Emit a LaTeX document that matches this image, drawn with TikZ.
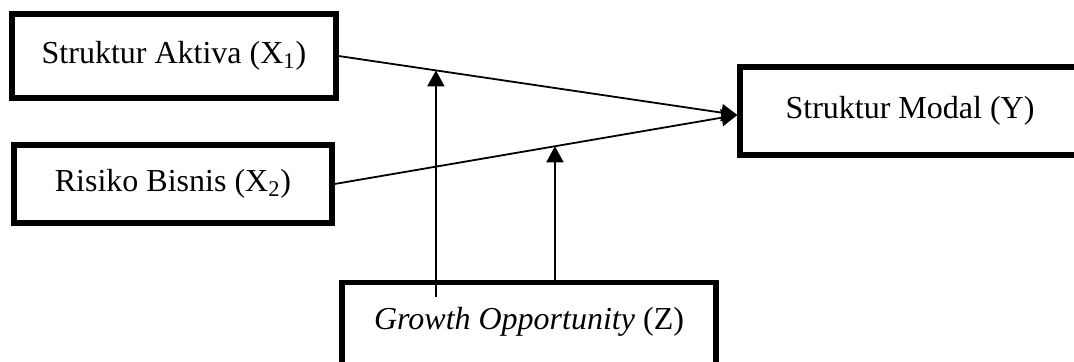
\documentclass[tikz,border=0pt]{standalone}
\usepackage{fontspec}
\setmainfont{Liberation Serif}
\usetikzlibrary{arrows.meta}
\usetikzlibrary{calc}

\begin{document}
\begin{tikzpicture}[x=0.5pt,y=-0.5pt,
  box/.style={draw,line width=2.6pt,inner sep=0pt,font=\fontsize{16}{19}\selectfont},
  arr/.style={line width=0.9pt,-{Triangle[length=8pt,width=8.5pt]}}]
\useasboundingbox (0,0) rectangle (1074,362);
\node[box,minimum width=162pt,minimum height=42pt] (x1) at (174,56) {Struktur Aktiva (X\textsubscript{1})};
\node[box,minimum width=159pt,minimum height=39pt] (x2) at (173,184) {Risiko Bisnis (X\textsubscript{2})};
\node[box,minimum width=170pt,minimum height=44pt] (y) at (910,111) {Struktur Modal (Y)};
\node[box,anchor=north,minimum width=187pt,text height=11pt,text depth=40pt,inner ysep=12.5pt] (z) at (529,280) {\textit{Growth Opportunity} (Z)};
% pengaruh langsung
\draw[arr] (x1.east) -- coordinate[pos=0.244] (m1) ([yshift=-2pt]y.west);
\draw[arr] (x2.east) -- coordinate[pos=0.547] (m2) ([yshift=-2pt]y.west);
% moderasi
\draw[arr] ($(m1 |- z.north)+(0,17)$) -- (m1);
\draw[arr] ($(m2 |- z.north)+(0,5)$) -- (m2);
\end{tikzpicture}
\end{document}
